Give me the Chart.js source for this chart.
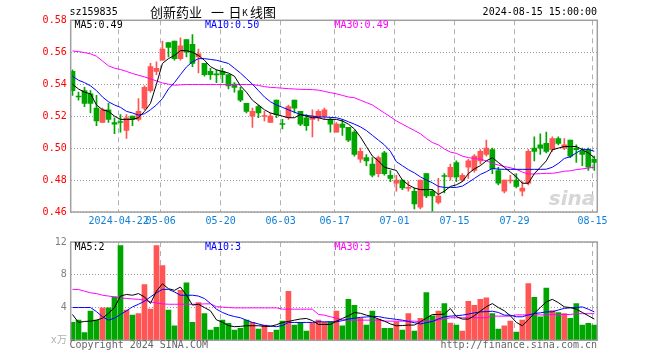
<!DOCTYPE html>
<html lang="zh-CN">
<head>
<meta charset="UTF-8" />
<title>创新药业 日K线图</title>
<style>
  body { margin: 0; background: #fff; }
  #wrap { position: relative; width: 660px; height: 360px; }
  canvas { position: absolute; left: 0; }
  #k { top: 0; }
  #v { top: 232px; }
</style>
</head>
<body>
<div id="wrap">
  <canvas id="k" width="660" height="232"></canvas>
  <canvas id="v" width="660" height="128"></canvas>
</div>

<script src="https://cdn.jsdelivr.net/npm/chart.js@4/dist/chart.umd.min.js"></script>
<script>
  // 日K数据 (2024-04-10 .. 2024-08-15), 读自原图
  const opens = [0.548,0.5325,0.536,0.534,0.525,0.516,0.524,0.516,0.5162,0.511,
    0.520,0.518,0.525,0.536,0.548,0.555,0.566,0.567,0.556,0.568,
    0.565,0.557,0.553,0.548,0.546,0.548,0.546,0.540,0.536,0.528,
    0.520,0.526,0.5198,0.516,0.530,0.515,0.519,0.530,0.523,0.519,
    0.518,0.519,0.520,0.518,0.510,0.515,0.513,0.510,0.493,0.494,
    0.490,0.484,0.497,0.483,0.478,0.480,0.4748,0.473,0.463,0.484,
    0.473,0.466,0.4825,0.482,0.491,0.480,0.488,0.486,0.492,0.496,
    0.499,0.486,0.473,0.4794,0.480,0.473,0.478,0.500,0.502,0.503,
    0.499,0.506,0.500,0.505,0.500,0.498,0.499,0.493];
  const highs = [0.549,0.535,0.538,0.536,0.533,0.525,0.528,0.519,0.521,0.521,
    0.520,0.531,0.539,0.553,0.554,0.567,0.566,0.567,0.569,0.568,
    0.571,0.562,0.553,0.550,0.549,0.550,0.546,0.541,0.538,0.528,
    0.525,0.527,0.523,0.522,0.530,0.518,0.527,0.530,0.523,0.521,
    0.524,0.524,0.525,0.519,0.516,0.518,0.513,0.511,0.500,0.496,
    0.494,0.495,0.498,0.486,0.483,0.480,0.479,0.475,0.480,0.484,
    0.474,0.481,0.484,0.490,0.492,0.484,0.493,0.496,0.499,0.505,
    0.500,0.488,0.480,0.483,0.484,0.479,0.499,0.507,0.509,0.510,
    0.507,0.507,0.506,0.505,0.502,0.500,0.500,0.495];
  const lows = [0.533,0.530,0.526,0.522,0.514,0.516,0.516,0.509,0.510,0.506,
    0.514,0.517,0.524,0.535,0.546,0.555,0.557,0.555,0.555,0.557,
    0.551,0.547,0.545,0.543,0.541,0.541,0.537,0.535,0.529,0.522,
    0.513,0.519,0.517,0.516,0.519,0.512,0.518,0.522,0.514,0.511,
    0.507,0.517,0.518,0.510,0.510,0.508,0.504,0.495,0.491,0.489,
    0.482,0.482,0.483,0.479,0.473,0.474,0.473,0.462,0.462,0.469,
    0.460,0.465,0.472,0.480,0.479,0.479,0.481,0.485,0.490,0.495,
    0.484,0.477,0.472,0.478,0.475,0.470,0.477,0.492,0.496,0.497,
    0.498,0.502,0.499,0.494,0.491,0.489,0.486,0.486];
  const closes = [0.536,0.532,0.528,0.528,0.517,0.524,0.518,0.515,0.516,0.519,
    0.518,0.523,0.538,0.551,0.550,0.562,0.563,0.556,0.564,0.560,
    0.553,0.559,0.546,0.546,0.5458,0.546,0.539,0.538,0.530,0.523,
    0.523,0.522,0.5202,0.520,0.521,0.5148,0.526,0.525,0.515,0.514,
    0.520,0.523,0.524,0.515,0.515,0.513,0.505,0.496,0.498,0.492,
    0.483,0.494,0.484,0.481,0.480,0.475,0.4750,0.465,0.480,0.470,
    0.470,0.470,0.4822,0.488,0.482,0.483,0.492,0.495,0.498,0.500,
    0.487,0.478,0.480,0.4796,0.476,0.475,0.498,0.498,0.500,0.498,
    0.506,0.503,0.502,0.495,0.499,0.496,0.488,0.491];

  const ma5 = [0.540,0.537,0.535,0.534,0.527,0.524,0.523,0.520,0.518,0.518,
    0.518,0.519,0.523,0.528,0.540,0.553,0.556,0.558,0.561,0.561,
    0.560,0.558,0.555,0.551,0.549,0.548,0.547,0.545,0.539,0.535,
    0.530,0.527,0.524,0.522,0.521,0.520,0.519,0.519,0.521,0.520,
    0.519,0.519,0.518,0.518,0.518,0.517,0.515,0.512,0.507,0.501,
    0.495,0.492,0.488,0.487,0.486,0.480,0.477,0.475,0.474,0.474,
    0.474,0.471,0.473,0.476,0.477,0.479,0.484,0.487,0.489,0.492,
    0.494,0.491,0.488,0.485,0.482,0.478,0.478,0.484,0.488,0.492,
    0.499,0.500,0.501,0.501,0.501,0.499,0.497,0.494];
  const ma10 = [0.545,0.5425,0.541,0.539,0.536,0.532,0.529,0.527,0.5255,0.523,
    0.522,0.5206,0.5215,0.524,0.527,0.531,0.537,0.541,0.546,0.5508,
    0.554,0.556,0.556,0.5555,0.555,0.554,0.553,0.550,0.547,0.5435,
    0.540,0.536,0.532,0.529,0.527,0.5255,0.524,0.5225,0.521,0.5205,
    0.520,0.5195,0.5195,0.5192,0.519,0.518,0.5165,0.515,0.5133,0.511,
    0.508,0.505,0.502,0.498,0.4915,0.489,0.4865,0.4845,0.482,0.480,
    0.4783,0.476,0.4754,0.4754,0.4754,0.4762,0.4785,0.481,0.4835,0.4852,
    0.4873,0.4868,0.4867,0.4867,0.4867,0.4867,0.4867,0.4867,0.4867,0.4868,
    0.488,0.4904,0.4935,0.4946,0.497,0.4992,0.4992,0.498];
  const ma30 = [0.5608,0.5604,0.5598,0.559,0.5575,0.5545,0.5515,0.550,0.5492,0.548,
    0.5467,0.5456,0.5446,0.5433,0.5421,0.5408,0.540,0.5394,0.5396,0.5398,
    0.5398,0.5398,0.5398,0.5398,0.5398,0.5398,0.5398,0.5398,0.5398,0.5398,
    0.5398,0.5392,0.5385,0.538,0.5378,0.5375,0.5372,0.537,0.5368,0.5367,
    0.5366,0.5363,0.5355,0.5347,0.534,0.533,0.532,0.5315,0.530,0.5285,
    0.527,0.5245,0.522,0.5196,0.517,0.515,0.513,0.511,0.509,0.506,
    0.5035,0.502,0.4995,0.4975,0.4967,0.495,0.494,0.4935,0.493,0.492,
    0.4905,0.4894,0.4885,0.4877,0.4867,0.485,0.4838,0.4838,0.484,0.4842,
    0.4842,0.4848,0.4855,0.4858,0.4865,0.487,0.4875,0.488];

  // 成交量 (万手)
  const volumes = [2.18,2.46,0.93,3.56,2.46,3.96,3.96,5.30,11.56,3.68,
    3.07,3.27,6.79,3.80,11.56,9.13,3.68,1.78,6.10,7.03,
    2.18,4.60,3.27,1.25,1.58,2.46,2.06,1.25,1.45,2.46,
    2.18,1.37,1.86,0.97,1.25,2.34,5.98,1.86,2.18,1.13,
    2.06,2.46,2.20,2.26,3.56,1.78,5.01,4.28,2.67,1.86,
    3.56,2.59,1.45,1.45,2.26,1.25,3.27,1.13,2.67,5.82,
    2.99,3.56,4.48,2.10,1.86,1.13,4.77,4.28,5.01,5.17,
    3.27,1.37,1.78,2.34,1.01,2.46,6.91,5.25,2.87,6.38,
    3.64,3.39,3.27,2.67,4.48,1.86,2.06,1.86];
  const vma5 = [3.15,2.18,2.3,2.34,2.46,2.7,3.3,4.0,5.4,5.6,
    5.5,5.7,5.3,4.5,6.0,6.9,6.3,6.1,6.5,5.5,
    4.3,4.4,4.0,3.6,2.5,2.2,1.8,1.66,1.7,1.78,
    1.78,1.78,1.7,1.7,1.9,2.18,2.3,2.46,2.6,2.67,
    2.4,1.94,1.94,1.94,2.34,2.67,3.0,3.39,3.3,3.07,
    2.9,2.6,2.34,2.0,1.78,1.8,1.86,1.86,2.26,2.7,
    3.15,3.15,3.2,3.88,2.9,2.59,2.59,3.0,3.56,4.1,
    4.48,4.0,3.6,3.0,2.18,1.78,2.5,3.3,4.0,4.69,
    5.0,4.6,4.08,4.0,3.8,3.4,3.0,2.59];
  const vma10 = [4.0,4.0,4.0,4.0,3.5,2.87,2.46,2.7,3.15,3.6,
    4.08,4.4,4.77,5.3,5.8,6.22,6.22,5.9,5.5,5.5,
    5.5,5.4,5.1,4.5,3.8,3.4,3.1,2.9,2.75,2.45,
    2.18,2.0,1.8,1.75,1.66,1.8,2.18,2.18,2.18,2.18,
    2.18,2.26,2.26,2.26,2.26,2.4,2.59,2.7,2.8,2.85,
    2.9,2.9,2.75,2.65,2.55,2.46,2.3,2.15,2.0,2.15,
    2.3,2.6,2.87,2.95,3.0,3.07,3.2,3.35,3.47,3.5,
    3.55,3.4,3.07,3.07,2.87,2.87,3.1,3.27,3.35,3.47,
    3.47,3.7,3.9,3.96,4.0,4.08,3.8,3.47];
  const vma30 = [6.22,6.2,6.0,5.8,5.7,5.5,5.4,5.3,5.2,5.1,
    5.05,5.0,4.9,4.7,4.55,4.45,4.4,4.4,4.4,4.4,
    4.4,4.4,4.45,4.45,4.1,4.05,4.0,3.96,3.96,3.96,
    3.96,3.96,3.96,3.96,3.96,3.8,3.8,3.8,3.8,3.8,
    3.8,3.15,3.07,2.87,2.7,2.5,2.46,2.46,2.46,2.46,
    2.46,2.46,2.34,2.34,2.34,2.34,2.34,2.34,2.26,2.3,
    2.4,2.5,2.6,2.75,2.75,2.75,2.75,2.75,2.75,2.75,
    2.95,2.95,2.95,2.95,3.1,3.1,3.1,3.1,3.1,3.1,
    3.15,3.15,3.15,3.15,3.25,3.25,3.25,3.25];

  const tickIndex = [8, 15, 25, 35, 44, 54, 64, 74, 87];
  const tickLabels = ['2024-04-22', '05-06', '05-20', '06-03', '06-17', '07-01', '07-15', '07-29', '08-15'];
  const kLegend = ['MA5:0.49', 'MA10:0.50', 'MA30:0.49'];
  const vLegend = ['MA5:2', 'MA10:3', 'MA30:3'];

  const UP = '#ff5555', DOWN = '#00a600';
  const MONO = '"DejaVu Sans Mono", monospace';
  const CJK = '"Noto Sans CJK SC", sans-serif';
  const colors = closes.map((c, i) => c >= opens[i] ? UP : DOWN);
  const pts = arr => arr.map((y, x) => ({ x, y }));

  const lineSet = (arr, color) => ({
    type: 'line', data: pts(arr), borderColor: color, borderWidth: 1,
    pointRadius: 0, tension: 0, order: 0
  });

  const xScale = (showLabels) => ({
    type: 'linear', min: -0.3, max: 87.5, offset: false,
    afterBuildTicks: s => { s.ticks = tickIndex.map(v => ({ value: v - 0.3 })); },
    afterFit: s => { s.height = showLabels ? 20 : 19.7; },
    ticks: {
      display: showLabels, autoSkip: false, maxRotation: 0, padding: 3,
      color: '#0f7fd6', font: { family: MONO, size: 10 },
      callback: (v, i) => tickLabels[i]
    },
    grid: { color: '#b0b0b0', drawTicks: false, offset: false },
    border: { display: false, dash: [5, 4] }
  });

  const framePlugin = {
    id: 'frame',
    beforeDatasetsDraw(chart, args, opts) {
      if (!opts.watermark) return;
      const ctx = chart.ctx, a = chart.chartArea;
      ctx.save();
      ctx.fillStyle = '#d6d6d6';
      ctx.font = 'italic bold 20px "DejaVu Sans", sans-serif';
      ctx.textAlign = 'right';
      ctx.textBaseline = 'alphabetic';
      ctx.fillText('sina', a.right - 2, a.bottom - 7);
      ctx.restore();
    },
    afterDraw(chart, args, opts) {
      const ctx = chart.ctx, a = chart.chartArea;
      ctx.save();
      ctx.strokeStyle = '#a0a0a0';
      ctx.lineWidth = 1.5;
      ctx.strokeRect(a.left, a.top, a.right - a.left, a.bottom - a.top);

      ctx.font = '10px ' + MONO;
      ctx.textBaseline = 'middle';
      ctx.textAlign = 'left';
      const lx = [74.5, 205, 334.5], lc = ['#000', '#0000ff', '#ff00ff'];
      opts.legend.forEach((t, i) => {
        ctx.fillStyle = lc[i];
        ctx.fillText(t, lx[i], a.top + 5.5);
      });

      if (opts.title) {
        ctx.fillStyle = '#000';
        ctx.fillText('sz159835', 69.5, 12);
        ctx.textAlign = 'right';
        ctx.fillText('2024-08-15 15:00:00', 597, 12);
        ctx.textAlign = 'left';
        ctx.font = '13px ' + CJK;
        ctx.fillText('创新药业', 150, 12);
        ctx.fillText('一', 211, 12);
        ctx.fillText('日', 228.5, 12);
        ctx.fillText('线图', 250, 12);
        ctx.font = '9px ' + CJK;
        ctx.fillText('K', 242, 12.5);
      }
      if (opts.footer) {
        ctx.fillStyle = '#666';
        ctx.font = '10px ' + MONO;
        ctx.textAlign = 'left';
        ctx.fillText('Copyright 2024 SINA.COM', 69.5, 113.7);
        ctx.textAlign = 'right';
        ctx.fillText('http://finance.sina.com.cn', 597, 113.7);
      }
      ctx.restore();
    }
  };

  new Chart(document.getElementById('k'), {
    type: 'bar',
    data: {
      datasets: [
        lineSet(ma5, '#000000'),
        lineSet(ma10, '#0000ff'),
        lineSet(ma30, '#ff00ff'),
        { type: 'bar', data: opens.map((o, i) => ({ x: i, y: [o, closes[i]] })),
          backgroundColor: colors, barThickness: 5, minBarLength: 1, grouped: false, order: 1 },
        { type: 'bar', data: lows.map((l, i) => ({ x: i, y: [l, highs[i]] })),
          backgroundColor: colors, barThickness: 1, grouped: false, order: 2 }
      ]
    },
    options: {
      responsive: false,
      animation: false,
      layout: { padding: { left: 0, right: 62.7, top: 20.3, bottom: 0 } },
      plugins: {
        legend: { display: false },
        tooltip: { enabled: false },
        frame: { legend: kLegend, title: true, watermark: true }
      },
      scales: {
        x: xScale(true),
        y: {
          min: 0.46, max: 0.58,
          afterFit: s => { s.width = 70.7; },
          ticks: {
            stepSize: 0.02, padding: 4, color: '#ff0000',
            font: { family: MONO, size: 10 },
            callback: v => v.toFixed(2)
          },
          grid: { color: '#999999', drawTicks: false },
          border: { display: false, dash: [1, 2] }
        }
      }
    },
    plugins: [framePlugin]
  });

  new Chart(document.getElementById('v'), {
    type: 'bar',
    data: {
      datasets: [
        lineSet(vma5, '#000000'),
        lineSet(vma10, '#0000ff'),
        lineSet(vma30, '#ff00ff'),
        { type: 'bar', data: pts(volumes), backgroundColor: colors,
          barThickness: 5, grouped: false, order: 1 }
      ]
    },
    options: {
      responsive: false,
      animation: false,
      layout: { padding: { left: 0, right: 62.7, top: 8.7, bottom: 0 } },
      plugins: {
        legend: { display: false },
        tooltip: { enabled: false },
        frame: { legend: vLegend, footer: true }
      },
      scales: {
        x: xScale(false),
        y: {
          min: 0, max: 12,
          afterFit: s => { s.width = 70.7; },
          ticks: {
            stepSize: 4, padding: 4,
            color: c => c.tick.value === 0 ? '#b0b0b0' : '#808080',
            font: { family: MONO, size: 10 },
            callback: v => v === 0 ? 'x万' : v
          },
          grid: { color: '#999999', drawTicks: false },
          border: { display: false, dash: [1, 2] }
        }
      }
    },
    plugins: [framePlugin]
  });
</script>
</body>
</html>
